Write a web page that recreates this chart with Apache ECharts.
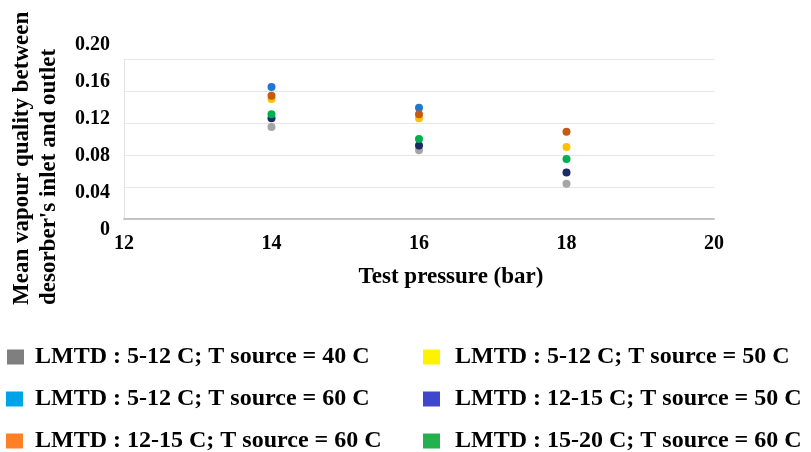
<!DOCTYPE html>
<html>
<head>
<meta charset="utf-8">
<script src="https://cdn.jsdelivr.net/npm/echarts@6/dist/echarts.min.js"></script>
<style>
  html, body { margin: 0; padding: 0; background: #fff; }
  #chart { width: 811px; height: 452px; }
</style>
</head>
<body>
<div id="chart"></div>
<script>
// Test pressures (bar) at which each configuration was measured
var pressures = [14, 16, 18];

// Series names (legend order)
var seriesNames = [
  'LMTD : 5-12 C; T source = 40 C',
  'LMTD : 5-12 C; T source = 50 C',
  'LMTD : 5-12 C; T source = 60 C',
  'LMTD : 12-15 C; T source = 50 C',
  'LMTD : 12-15 C; T source = 60 C',
  'LMTD : 15-20 C; T source = 60 C'
];

// Mean vapour quality values per series, one per pressure (null = not measured)
var lmtd512_T40 = [0.115, 0.086, 0.044];
var lmtd512_T50 = [0.150, 0.126, 0.090];
var lmtd512_T60 = [0.165, 0.139, null];
var lmtd1215_T50 = [0.126, 0.092, 0.058];
var lmtd1215_T60 = [0.154, 0.131, 0.109];
var lmtd1520_T60 = [0.131, 0.100, 0.075];

// Axis tick labels
var xTickLabels = ['12', '14', '16', '18', '20'];
var yTickLabels = ['0', '0.04', '0.08', '0.12', '0.16', '0.20'];

var seriesValues = [lmtd512_T40, lmtd512_T50, lmtd512_T60, lmtd1215_T50, lmtd1215_T60, lmtd1520_T60];
var markerColors = ['#a5a5a5', '#ffc000', '#1f77d0', '#1c2a66', '#c55a11', '#00b050'];
var legendColors = ['#7f7f7f', '#fff200', '#00a2e8', '#3f48cc', '#ff7f27', '#22b14c'];

var FONT = '"Liberation Serif", "Times New Roman", serif';

function pairs(values) {
  var out = [];
  for (var i = 0; i < pressures.length; i++) {
    if (values[i] !== null) out.push([pressures[i], values[i]]);
  }
  return out;
}

var series = seriesNames.map(function (name, i) {
  return {
    name: name,
    type: 'scatter',
    xAxisIndex: 0,
    yAxisIndex: 0,
    symbol: 'circle',
    symbolSize: 8,
    itemStyle: { color: markerColors[i], opacity: 1 },
    data: pairs(seriesValues[i])
  };
});

// Legend laid out in two columns, three rows
var legendPos = [
  { left: 7, top: 345, gap: 6 },
  { left: 423, top: 345, gap: 10 },
  { left: 6, top: 387, gap: 7 },
  { left: 423, top: 387, gap: 10 },
  { left: 6, top: 429, gap: 7 },
  { left: 423, top: 429, gap: 10 }
];
var legends = seriesNames.map(function (name, i) {
  var p = legendPos[i];
  return {
    left: p.left,
    top: p.top,
    padding: 0,
    icon: 'rect',
    itemWidth: 17,
    itemHeight: 15,
    selectedMode: false,
    data: [{ name: name, itemStyle: { color: legendColors[i], opacity: 1 } }],
    textStyle: {
      fontFamily: FONT,
      fontWeight: 'bold',
      fontSize: 24,
      color: '#000',
      padding: [0, 0, 0, p.gap]
    }
  };
});

var chart = echarts.init(document.getElementById('chart'), null, { renderer: 'canvas' });
chart.setOption({
  animation: false,
  backgroundColor: '#fff',
  grid: [
    { left: 124, top: 59, width: 590, height: 160 },
    // label-only grid for the value axis tick labels
    { left: 124, top: 45, width: 590, height: 185 }
  ],
  xAxis: [
    {
      gridIndex: 0,
      type: 'value',
      min: 12, max: 20, interval: 2,
      axisLine: { show: true, lineStyle: { color: '#c4c4c4', width: 2 } },
      axisTick: { show: false },
      splitLine: { show: false },
      axisLabel: {
        margin: 15,
        fontFamily: FONT, fontWeight: 'bold', fontSize: 20, color: '#000',
        formatter: function (v) { return xTickLabels[(v - 12) / 2]; }
      }
    },
    { gridIndex: 1, type: 'value', show: false, min: 12, max: 20 }
  ],
  yAxis: [
    {
      gridIndex: 0,
      type: 'value',
      min: 0, max: 0.2, interval: 0.04,
      axisLine: { show: true, lineStyle: { color: '#e4e4e4', width: 1 } },
      axisTick: { show: false },
      axisLabel: { show: false },
      splitLine: { show: true, lineStyle: { color: '#e6e6e6', width: 1 } }
    },
    {
      gridIndex: 1,
      type: 'value',
      min: 0, max: 0.2, interval: 0.04,
      axisLine: { show: false },
      axisTick: { show: false },
      splitLine: { show: false },
      axisLabel: {
        margin: 14,
        fontFamily: FONT, fontWeight: 'bold', fontSize: 20, color: '#000',
        formatter: function (v) { return yTickLabels[Math.round(v / 0.04)]; }
      }
    }
  ],
  legend: legends,
  graphic: [
    {
      type: 'text', x: 22, y: 305, rotation: Math.PI / 2,
      style: { text: 'Mean vapour quality between', font: 'bold 23px ' + FONT, fill: '#000', align: 'left', verticalAlign: 'middle' }
    },
    {
      type: 'text', x: 49, y: 305, rotation: Math.PI / 2,
      style: { text: "desorber's inlet and outlet", font: 'bold 23px ' + FONT, fill: '#000', align: 'left', verticalAlign: 'middle' }
    },
    {
      type: 'text', x: 451, y: 277,
      style: { text: 'Test pressure (bar)', font: 'bold 23px ' + FONT, fill: '#000', align: 'center', verticalAlign: 'middle' }
    }
  ],
  series: series
});
</script>
</body>
</html>
